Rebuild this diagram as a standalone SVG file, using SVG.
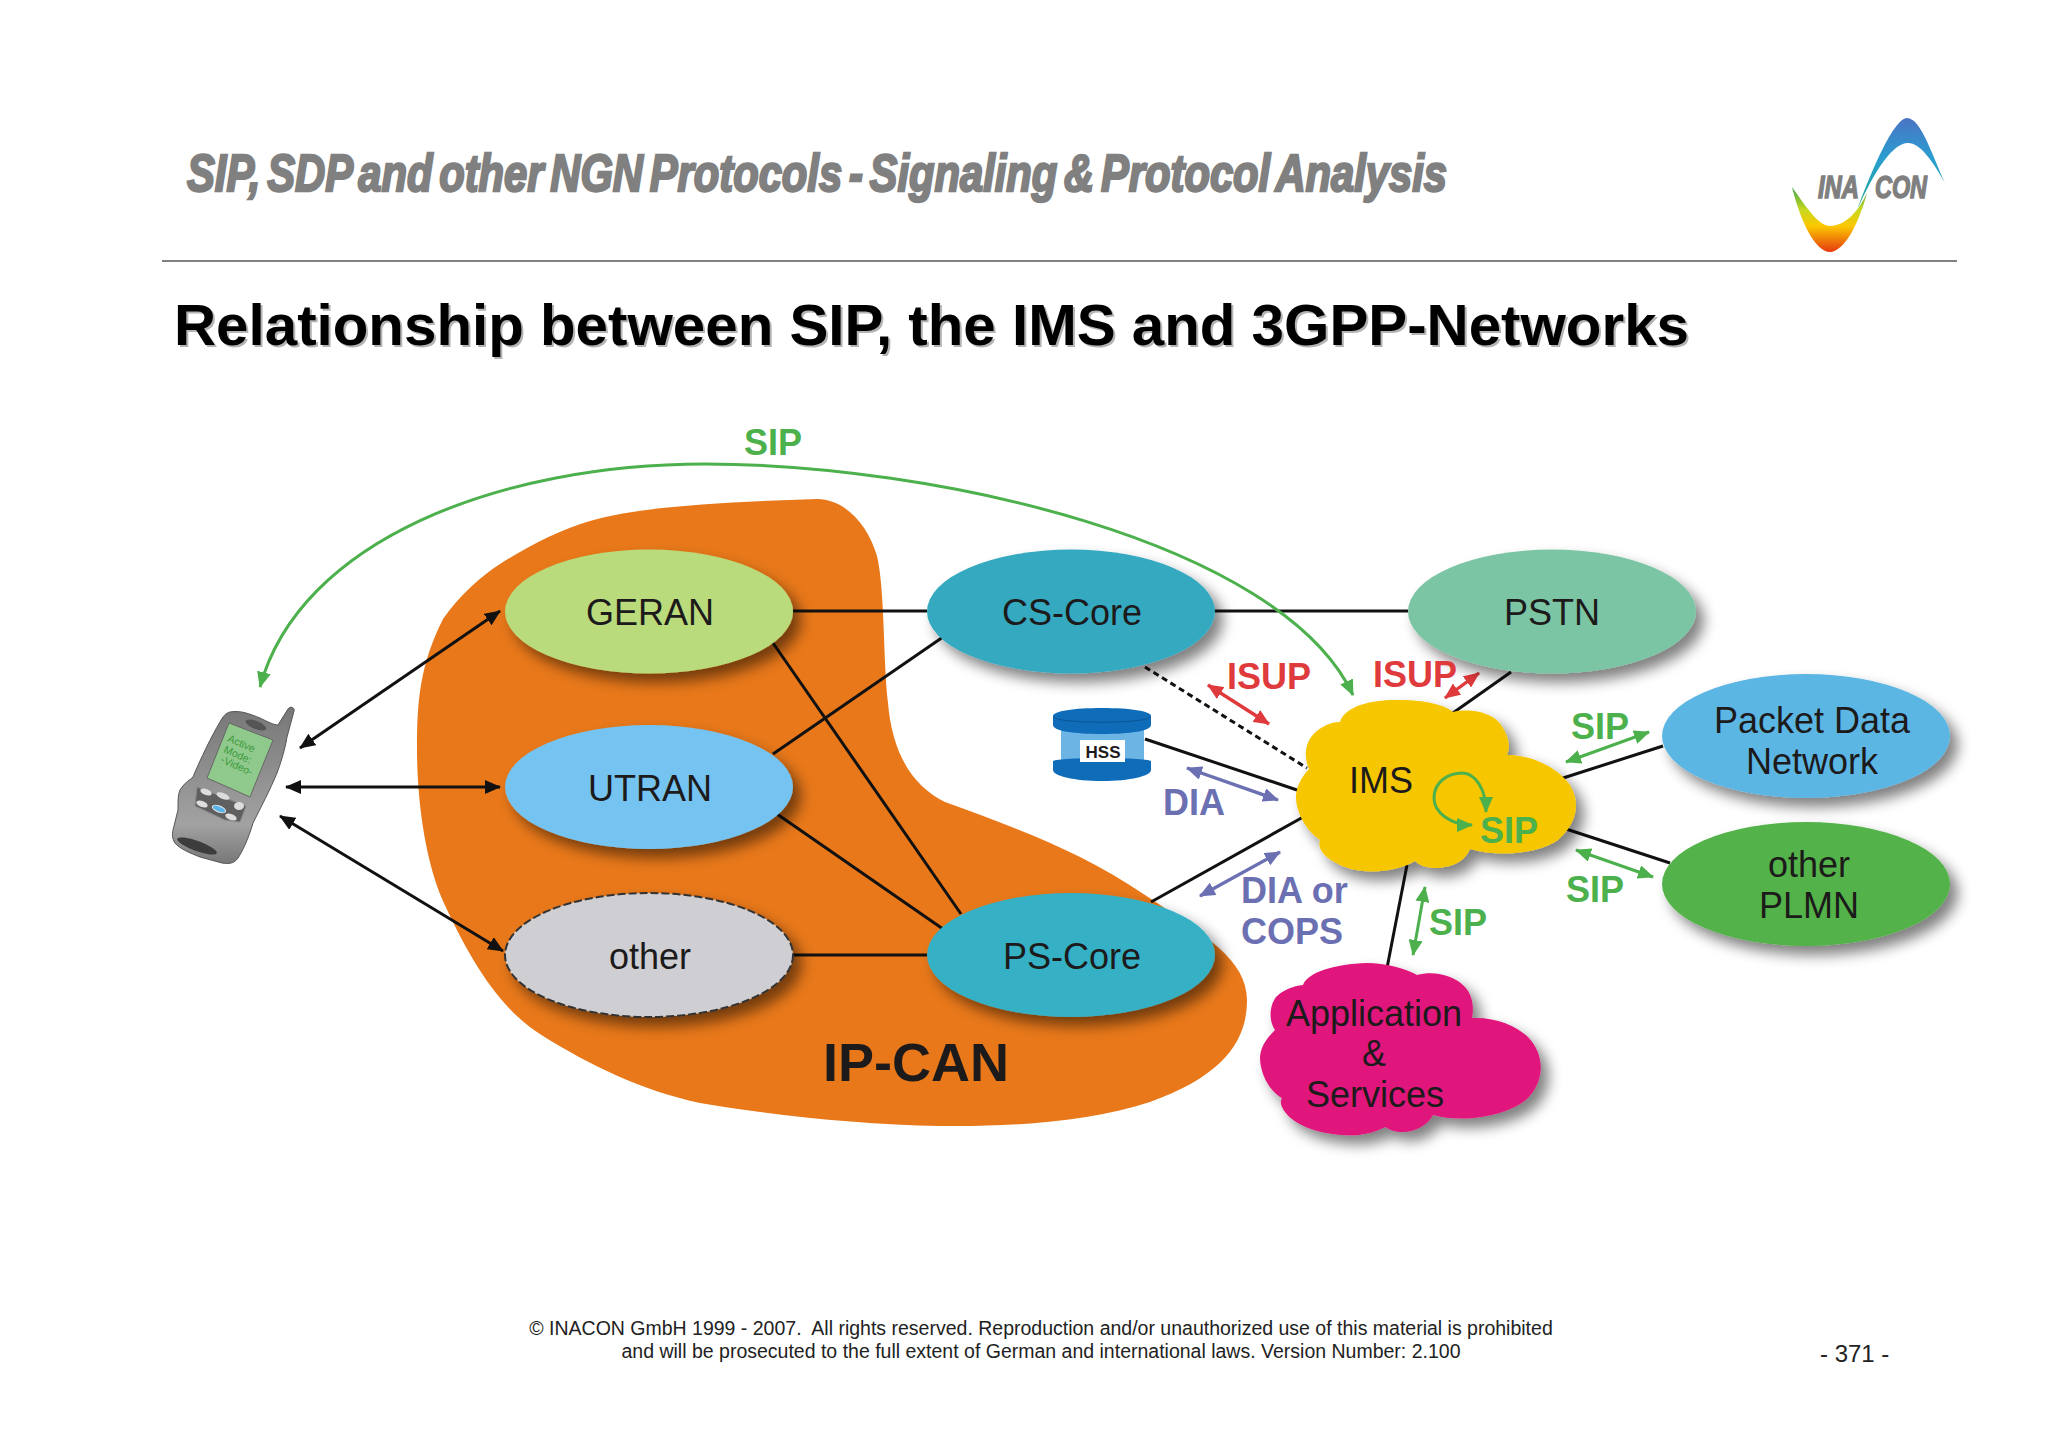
<svg xmlns="http://www.w3.org/2000/svg" width="2048" height="1448" viewBox="0 0 2048 1448">
<style>
text{font-family:"Liberation Sans",Arial,sans-serif;}
.n{font-size:36px;fill:#1c1a1a;text-anchor:middle;}
.lb{font-size:36px;font-weight:bold;}
.g{fill:#4cb04c;}.r{fill:#df3a3c;}.v{fill:#6b70b2;}
.c{fill:none;stroke:#111;stroke-width:3;}
.ag{fill:none;stroke:#4cb04c;stroke-width:3;marker-start:url(#mg);marker-end:url(#mg);}
.ar{fill:none;stroke:#df3a3c;stroke-width:3.4;marker-start:url(#mr);marker-end:url(#mr);}
.av{fill:none;stroke:#6b70b2;stroke-width:3.4;marker-start:url(#mv);marker-end:url(#mv);}
.ak{fill:none;stroke:#111;stroke-width:3;marker-start:url(#mk);marker-end:url(#mk);}
.sh{filter:url(#shadow);}
.f{font-size:19.5px;fill:#222;text-anchor:middle;}
.ph{font-size:10.5px;fill:#3d9a3d;}
</style>
<defs>
<filter id="shadow" x="-20%" y="-20%" width="150%" height="150%">
<feGaussianBlur in="SourceAlpha" stdDeviation="7"/>
<feOffset dx="8" dy="9"/>
<feComponentTransfer><feFuncA type="linear" slope="0.5"/></feComponentTransfer>
<feMerge><feMergeNode/><feMergeNode in="SourceGraphic"/></feMerge>
</filter>
<marker id="mk" viewBox="0 0 16 14" markerUnits="userSpaceOnUse" markerWidth="16" markerHeight="14" refX="15" refY="7" orient="auto-start-reverse"><path d="M0,0L16,7L0,14Z" fill="#111"/></marker>
<marker id="mg" viewBox="0 0 16 14" markerUnits="userSpaceOnUse" markerWidth="16" markerHeight="14" refX="15" refY="7" orient="auto-start-reverse"><path d="M0,0L16,7L0,14Z" fill="#4cb04c"/></marker>
<marker id="mr" viewBox="0 0 16 14" markerUnits="userSpaceOnUse" markerWidth="16" markerHeight="14" refX="15" refY="7" orient="auto-start-reverse"><path d="M0,0L16,7L0,14Z" fill="#df3a3c"/></marker>
<marker id="mv" viewBox="0 0 16 14" markerUnits="userSpaceOnUse" markerWidth="16" markerHeight="14" refX="15" refY="7" orient="auto-start-reverse"><path d="M0,0L16,7L0,14Z" fill="#6b70b2"/></marker>
<linearGradient id="lgU" x1="0" y1="0" x2="0" y2="1"><stop offset="0" stop-color="#4a74c4"/><stop offset="0.45" stop-color="#2a9ed0"/><stop offset="1" stop-color="#1aa890"/></linearGradient>
<linearGradient id="lgL" x1="0" y1="0" x2="0" y2="1"><stop offset="0" stop-color="#3aa648"/><stop offset="0.35" stop-color="#c8d820"/><stop offset="0.6" stop-color="#fbc800"/><stop offset="1" stop-color="#e63a10"/></linearGradient>
<linearGradient id="phone" x1="0" y1="0" x2="0" y2="1"><stop offset="0" stop-color="#777"/><stop offset="0.75" stop-color="#a2a2a2"/><stop offset="1" stop-color="#777"/></linearGradient>
</defs>
<rect width="2048" height="1448" fill="#fff"/>

<g id="header">
<text x="187" y="191" font-size="52" font-weight="bold" font-style="italic" fill="#808080" stroke="#808080" stroke-width="2.4" word-spacing="-6" textLength="1260" lengthAdjust="spacingAndGlyphs">SIP, SDP and other NGN Protocols - Signaling &amp; Protocol Analysis</text>
<line x1="162" y1="261" x2="1957" y2="261" stroke="#808080" stroke-width="2"/>
<text x="176" y="347" font-size="58" font-weight="bold" fill="#b4b4b4" textLength="1515" lengthAdjust="spacingAndGlyphs">Relationship between SIP, the IMS and 3GPP-Networks</text>
<text x="174" y="345" font-size="58" font-weight="bold" fill="#000" textLength="1515" lengthAdjust="spacingAndGlyphs">Relationship between SIP, the IMS and 3GPP-Networks</text>
</g>

<g id="logo">
<path d="M1858,208C1868,180 1893,118 1907,118C1921,118 1932,155 1945,183C1932,160 1920,143 1908,143C1893,143 1875,170 1858,208Z" fill="url(#lgU)"/>
<path d="M1792,187C1805,205 1818,226 1830,226C1845,226 1858,212 1867,193C1860,220 1845,252 1830,252C1815,252 1800,220 1792,187Z" fill="url(#lgL)"/>
<text x="1818" y="198" font-size="32" font-weight="bold" font-style="italic" fill="#7f7f7f" stroke="#7f7f7f" stroke-width="1.5" textLength="41" lengthAdjust="spacingAndGlyphs">INA</text>
<text x="1875" y="198" font-size="32" font-weight="bold" font-style="italic" fill="#7f7f7f" stroke="#7f7f7f" stroke-width="1.5" textLength="52" lengthAdjust="spacingAndGlyphs">CON</text>
</g>

<path id="ip-can-area" d="M417,749C417,700 420,665 443,619C460,595 480,577 500,564C530,545 560,530 590,521C640,506 730,502 817,499C845,499 868,525 877,556C885,590 883,660 888,703C892,750 910,785 945,802C1010,826 1080,850 1145,895C1205,935 1247,960 1247,1000C1247,1040 1225,1075 1150,1102C1090,1122 1010,1127 940,1126C860,1125 770,1115 700,1103C640,1090 590,1065 543,1036C500,1010 470,960 443,901C425,860 417,800 417,749Z" fill="#e8781a"/>
<text id="ip-can-label" x="823" y="1081" font-size="54" font-weight="bold" fill="#1c1a1a">IP-CAN</text>

<g id="connectors">
<line class="c" x1="793" y1="611" x2="927" y2="611"/>
<line class="c" x1="1214" y1="611" x2="1408" y2="611"/>
<line class="c" x1="773" y1="643" x2="961" y2="914"/>
<line class="c" x1="773" y1="754" x2="943" y2="637"/>
<line class="c" x1="777" y1="814" x2="943" y2="929"/>
<line class="c" x1="793" y1="955" x2="927" y2="955"/>
<line class="c" x1="1145" y1="667" x2="1307" y2="768" stroke-dasharray="6 4"/>
<line class="c" x1="1145" y1="739" x2="1300" y2="791"/>
<line class="c" x1="1151" y1="902" x2="1305" y2="816"/>
<line class="c" x1="1450" y1="715" x2="1511" y2="672"/>
<line class="c" x1="1560" y1="779" x2="1663" y2="746"/>
<line class="c" x1="1560" y1="827" x2="1670" y2="863"/>
<line class="c" x1="1407" y1="865" x2="1387" y2="968"/>
<line class="ak" x1="300" y1="748" x2="500" y2="611"/>
<line class="ak" x1="286" y1="787" x2="500" y2="787"/>
<line class="ak" x1="280" y1="816" x2="503" y2="951"/>
<path class="ag" d="M260,687C300,540 500,464 705,464C930,464 1280,540 1353,695"/>
<line class="ar" x1="1208" y1="685" x2="1269" y2="724"/>
<line class="ar" x1="1445" y1="698" x2="1479" y2="673"/>
<line class="av" x1="1187" y1="768" x2="1278" y2="800"/>
<line class="av" x1="1200" y1="896" x2="1280" y2="852"/>
<line class="ag" x1="1425" y1="887" x2="1413" y2="955"/>
<line class="ag" x1="1566" y1="762" x2="1649" y2="732"/>
<line class="ag" x1="1576" y1="850" x2="1653" y2="877"/>
</g>

<g id="phone-node">
<path d="M230,712C240,710 250,714 260,718C268,722 274,725 278,725L288,709C290,706 295,707 294,711L287,737C285,750 280,765 277,773C270,790 262,805 253,823C248,840 242,852 238,858C234,864 228,864 222,863L200,857C190,853 180,849 175,843C172,838 172,835 173,830L178,810C178,800 178,795 180,790C185,782 190,780 193,777C200,760 212,735 220,722C223,716 226,713 230,712Z" fill="url(#phone)" stroke="#555" stroke-width="1"/>
<ellipse cx="256" cy="725" rx="11" ry="4" transform="rotate(22 256 725)" fill="#555"/>
<path d="M229,723L273,740L250,797L207,778Z" fill="#8fc98c" stroke="#666" stroke-width="1" stroke-linejoin="round"/>
<g transform="translate(227,741) rotate(24)"><text class="ph">Active</text></g>
<g transform="translate(223,752) rotate(24)"><text class="ph">Mode:</text></g>
<g transform="translate(220,762) rotate(24)"><text class="ph">-Video-</text></g>
<path d="M197,787L246,806L240,822L225,820L195,806Z" fill="#5f5f5f" stroke="#888" stroke-width="1"/>
<ellipse cx="206" cy="792" rx="6" ry="3" transform="rotate(22 206 792)" fill="#ddd"/>
<ellipse cx="223" cy="796" rx="7" ry="3" transform="rotate(22 223 796)" fill="#ddd"/>
<ellipse cx="239" cy="806" rx="5" ry="4" fill="#ddd"/>
<ellipse cx="202" cy="804" rx="6" ry="3" transform="rotate(22 202 804)" fill="#ddd"/>
<ellipse cx="219" cy="809" rx="7" ry="3" transform="rotate(22 219 809)" fill="#5ab4e8" stroke="#eee"/>
<ellipse cx="231" cy="817" rx="6" ry="3" transform="rotate(22 231 817)" fill="#ddd"/>
<ellipse cx="197" cy="846" rx="21" ry="5" transform="rotate(20 197 846)" fill="#3c3c3c"/>
</g>

<g id="geran"><ellipse class="sh" cx="649" cy="611.5" rx="144" ry="62" fill="#b9db7c"/><text class="n" x="650" y="625">GERAN</text></g>
<g id="utran"><ellipse class="sh" cx="649" cy="787" rx="144" ry="62" fill="#75c3f0"/><text class="n" x="650" y="801">UTRAN</text></g>
<g id="other"><ellipse class="sh" cx="649" cy="955" rx="144" ry="62" fill="#cfcfd3" stroke="#333" stroke-width="2" stroke-dasharray="8 3"/><text class="n" x="650" y="969">other</text></g>
<g id="cs-core"><ellipse class="sh" cx="1071" cy="611.5" rx="144" ry="62" fill="#36a9c0"/><text class="n" x="1072" y="625">CS-Core</text></g>
<g id="ps-core"><ellipse class="sh" cx="1071" cy="955" rx="144" ry="62" fill="#36b0c4"/><text class="n" x="1072" y="969">PS-Core</text></g>
<g id="pstn"><ellipse class="sh" cx="1552" cy="611.5" rx="144" ry="62" fill="#7cc5a4"/><text class="n" x="1552" y="625">PSTN</text></g>
<g id="pdn"><ellipse class="sh" cx="1806" cy="736" rx="144" ry="62" fill="#5cb6e4"/><text class="n" x="1812" y="733">Packet Data</text><text class="n" x="1812" y="774">Network</text></g>
<g id="plmn"><ellipse class="sh" cx="1806" cy="884" rx="144" ry="62" fill="#52b248"/><text class="n" x="1809" y="877">other</text><text class="n" x="1809" y="918">PLMN</text></g>

<g id="hss">
<rect x="1061" y="728" width="83" height="38" fill="#6cb4e4"/>
<path d="M1053,761C1060,757 1144,757 1151,761L1151,770C1151,776 1130,781 1102,781C1074,781 1053,776 1053,770Z" fill="#0f6cb8"/>
<path d="M1053,716C1053,711 1074,708 1102,708C1130,708 1151,711 1151,716L1151,725C1151,731 1130,734 1102,734C1074,734 1053,731 1053,725Z" fill="#0f6cb8"/>
<path d="M1053,717C1060,724 1144,724 1151,717" fill="none" stroke="#0a5596" stroke-width="1"/>
<rect x="1080" y="740" width="45" height="22" fill="#fff"/>
<text x="1103" y="758" font-size="17" font-weight="bold" text-anchor="middle" fill="#1c1a1a">HSS</text>
</g>

<g id="ims">
<path class="sh" d="M1340,722C1345,705 1375,699 1400,700C1425,700 1445,705 1453,712C1470,708 1495,712 1503,728C1510,740 1510,748 1507,755C1535,755 1560,770 1570,785C1582,805 1575,825 1558,840C1540,853 1500,858 1470,849C1465,862 1450,868 1435,868C1428,868 1420,866 1415,861C1395,873 1360,875 1340,865C1325,858 1317,850 1320,840C1305,830 1295,810 1296,795C1297,785 1303,775 1309,769C1303,755 1305,740 1318,730C1325,725 1332,722 1340,722Z" fill="#f6c600"/>
<text class="n" x="1381" y="793">IMS</text>
<path fill="none" stroke="#4cb04c" stroke-width="3" marker-start="url(#mg)" marker-end="url(#mg)" d="M1472,825C1450,825 1434,812 1434,798C1434,782 1448,773 1462,773C1476,773 1486,790 1486,812"/>
<text class="lb g" x="1480" y="843">SIP</text>
</g>

<g id="app-services">
<path class="sh" d="M1303,985C1308,972 1335,964 1367,963C1385,963 1405,968 1417,975C1435,970 1455,976 1465,987C1473,996 1474,1008 1472,1018C1495,1017 1515,1025 1528,1037C1545,1055 1545,1080 1528,1098C1510,1115 1465,1124 1433,1115C1428,1125 1415,1132 1403,1132C1395,1132 1390,1130 1385,1127C1370,1135 1355,1136 1343,1135C1320,1134 1290,1125 1282,1107C1280,1102 1281,1100 1282,1098C1268,1090 1260,1072 1260,1057C1261,1045 1268,1037 1275,1030C1268,1020 1270,1005 1276,997C1283,990 1293,986 1303,985Z" fill="#e0147c"/>
<text class="n" x="1374" y="1026">Application</text>
<text class="n" x="1374" y="1066">&amp;</text>
<text class="n" x="1375" y="1107">Services</text>
</g>

<g id="connector-labels">
<text class="lb g" x="744" y="455">SIP</text>
<text class="lb r" x="1227" y="689">ISUP</text>
<text class="lb r" x="1373" y="687">ISUP</text>
<text class="lb v" x="1163" y="815">DIA</text>
<text class="lb v" x="1241" y="903">DIA or</text>
<text class="lb v" x="1241" y="944">COPS</text>
<text class="lb g" x="1429" y="935">SIP</text>
<text class="lb g" x="1571" y="739">SIP</text>
<text class="lb g" x="1566" y="902">SIP</text>
</g>

<g id="footer">
<text class="f" x="1041" y="1335" xml:space="preserve">© INACON GmbH 1999 - 2007.  All rights reserved. Reproduction and/or unauthorized use of this material is prohibited</text>
<text class="f" x="1041" y="1358">and will be prosecuted to the full extent of German and international laws. Version Number: 2.100</text>
<text x="1820" y="1362" font-size="24" fill="#222">- 371 -</text>
</g>
</svg>
